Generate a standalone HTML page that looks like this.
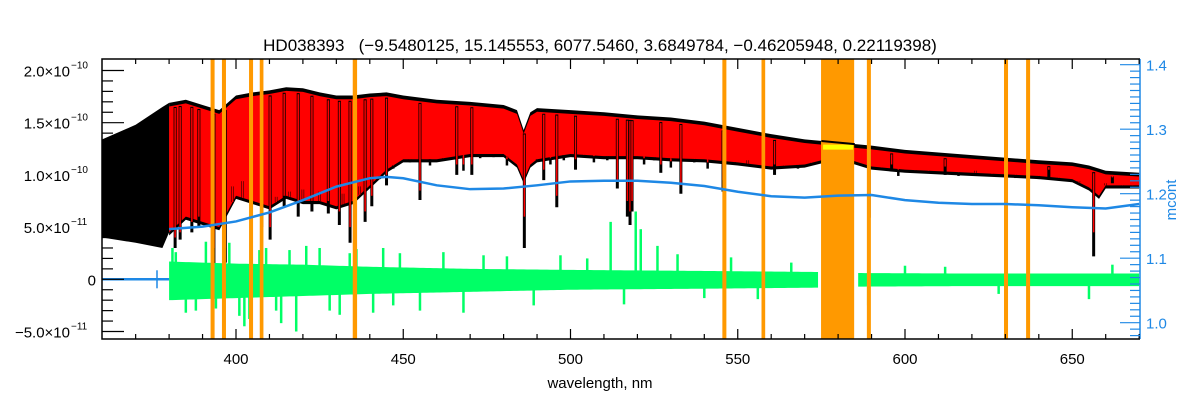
<!DOCTYPE html>
<html><head><meta charset="utf-8"><style>
html,body{margin:0;padding:0;background:#fff;}
svg{display:block;font-family:"Liberation Sans",sans-serif;}
</style></head><body>
<svg id="chart" width="1200" height="400" viewBox="0 0 1200 400">
<text x="600" y="51" text-anchor="middle" font-size="17" fill="#000">HD038393 &#160;&#160;(−9.5480125, 15.145553, 6077.5460, 3.6849784, −0.46205948, 0.22119398)</text>
<text x="600" y="388" text-anchor="middle" font-size="15" fill="#000">wavelength, nm</text>
<text transform="translate(-3,230) rotate(-90)" text-anchor="middle" font-size="15" fill="#000">flux, units</text>
<text transform="translate(1176,200) rotate(-90)" text-anchor="middle" font-size="15" fill="#1e88e5">mcont</text>
<defs><clipPath id="plotclip"><rect x="102" y="59" width="1038" height="280"/></clipPath></defs>
<g id="marks" clip-path="url(#plotclip)"></g>
<g id="axes"></g>
</svg>
<script>
// ---- data ----
const gridWl   = [360,370,378,380,385,390,395,400,405,410,415,420,425,430,435,440,445,450,460,470,480,484,486,488,490,500,510,520,530,540,550,560,570,580,590,600,620,640,650,655,658,660,670];
const upperFlux= [13.4,14.8,16.5,16.9,17.2,16.7,16.2,17.6,17.9,18.1,18.4,18.3,17.9,17.6,17.6,17.8,17.9,17.6,17.2,17.0,16.7,16.2,14.3,16.0,16.4,16.2,16.0,15.7,15.5,15.1,14.5,13.9,13.4,13.1,12.8,12.4,11.9,11.4,11.2,10.9,10.6,10.4,10.2];
const lowerFlux= [4.0,3.5,3.0,4.5,6.0,5.5,5.0,8.0,7.5,7.0,8.0,7.5,7.5,7.0,7.5,9.0,10.5,11.5,11.5,12.0,12.0,11.0,9.5,11.0,11.5,12.0,11.8,11.8,11.6,11.5,11.2,10.8,11.0,11.8,10.8,10.5,10.2,9.9,9.6,8.8,8.0,9.0,9.0];
const lineWl   = [381.8,383.3,386.8,388.9,393.4,396.8,404.6,407.7,410.2,414.4,418.6,422.7,427.6,430.9,434.1,438.6,440.6,445.0,455.0,466.0,470.5,486.2,492.0,495.9,501.5,514.0,517.0,517.8,518.4,527.0,533.0,545.6,557.6,561.0,589.3,596.0,612.0,643.0,656.4,662.0];
const lineMinBlack=[3.0,3.8,4.5,5.0,1.2,1.6,4.4,5.0,3.8,7.0,6.0,6.5,6.3,5.2,3.5,5.5,7.0,9.0,7.6,10.0,10.0,3.0,9.5,6.9,10.5,8.7,6.0,5.2,6.5,10.2,8.2,8.4,9.5,10.0,5.9,10.5,10.0,9.8,2.2,9.2];
const lineMinRed  =[4.0,4.5,5.5,6.0,3.0,3.0,6.0,6.0,5.0,8.0,7.5,7.5,7.5,6.5,5.0,6.5,8.0,10.0,8.5,11.0,11.0,6.0,10.5,8.0,11.5,9.5,7.5,6.5,7.5,11.0,9.0,9.5,10.5,11.0,7.5,11.0,10.8,10.5,4.5,10.0];
const weakWl   = [399,402,412,416,420,425,432,437,443,447,452,458,462,468,473,477,481,490,494,498,504,507,511,522,525,530,537,541,549,553,564,568,572,593,598,603,607,616,621,626,633,640,646,652,660,665,668];
const weakMin  = [9.5,10.0,8.5,9.0,9.2,9.0,8.8,9.5,10.2,11.2,11.8,11.5,12.0,11.0,12.2,12.3,11.5,12.0,11.6,12.0,12.3,11.8,12.0,11.6,12.0,11.3,11.8,11.2,11.6,12.0,11.4,11.2,11.7,11.3,10.5,11.0,10.9,10.5,11.0,10.7,10.3,10.2,10.2,10.0,9.8,9.5,9.6];
const mcontWl  = [380,390,400,410,420,430,440,445,450,460,470,480,490,500,510,520,530,540,550,560,570,580,590,600,610,620,630,640,650,660,670];
const mcontVal = [1.145,1.149,1.157,1.171,1.190,1.211,1.224,1.226,1.224,1.213,1.207,1.208,1.213,1.219,1.220,1.220,1.217,1.212,1.203,1.196,1.194,1.197,1.198,1.190,1.186,1.184,1.184,1.182,1.179,1.177,1.184];
const residWl  = [380,390,400,420,440,470,500,540,574,586,620,670];
const residHi  = [1.7,1.6,1.5,1.4,1.2,1.0,0.9,0.8,0.7,0.6,0.55,0.55];
const residLo  = [-2.0,-1.9,-1.8,-1.6,-1.4,-1.2,-1.0,-0.9,-0.8,-0.7,-0.65,-0.65];
const spikeWl  = [381,382,385,388,391,394,398,401,402.5,404,407,409,412,413.5,416,418,421,425,428,431,434,436,441,444,447,449,455,462,468,474,481,489,497,505,512,516,519.5,521,526,532,540,548,556,566,589,600,612,628,655,662];
const spikeVal = [3.0,2.6,-3.2,-3.0,3.6,-2.8,3.5,-3.5,-4.5,-3.8,2.8,3.0,-3.0,-4.2,2.8,-5.0,3.2,3.0,-3.0,-3.4,2.5,2.9,-3.2,3.0,-2.5,2.5,-3.0,2.6,-3.2,2.3,2.2,-2.5,2.3,2.0,5.5,-2.4,6.5,4.8,3.2,2.4,-1.8,2.1,-1.9,1.6,-2.5,1.3,1.2,-1.4,-1.9,1.4];
const maskStart= [392.4,395.8,403.9,407.1,434.9,545.4,557.1,574.9,588.6,629.6,636.2];
const maskEnd  = [393.6,397.0,405.1,408.2,436.2,546.6,558.2,584.8,589.8,630.8,637.4];
const xTicks   = [400,450,500,550,600,650];
const yTicks   = [-5,0,5,10,15,20];
const yTickLabels=["−5.0×10","0","5.0×10","1.0×10","1.5×10","2.0×10"];
const yTickExp = ["−11","","−11","−10","−10","−10"];
const y2Ticks  = [1.0,1.1,1.2,1.3,1.4];

// ---- axes ----
const L=102,R=1140,T=59,B=339;
const X=w=>236+(w-400)*3.345;
const Y=f=>279.3-f*10.44;
const Y2=m=>322.7-(m-1.0)*645;
const NS="http://www.w3.org/2000/svg";
const g=document.getElementById('marks');
const ga=document.getElementById('axes');
function mk(tag,attrs,parent){const e=document.createElementNS(NS,tag);for(const k in attrs)e.setAttribute(k,attrs[k]);(parent||g).appendChild(e);return e;}
function interp(xs,ys,x){if(x<=xs[0])return ys[0];for(let i=1;i<xs.length;i++){if(x<=xs[i]){const t=(x-xs[i-1])/(xs[i]-xs[i-1]);return ys[i-1]+t*(ys[i]-ys[i-1]);}}return ys[ys.length-1];}
let el;

let pts=[];
for(let i=0;i<gridWl.length&&gridWl[i]<=380;i++)pts.push(X(gridWl[i])+','+Y(upperFlux[i]));
for(let i=gridWl.length-1;i>=0;i--)if(gridWl[i]<=380)pts.push(X(gridWl[i])+','+Y(lowerFlux[i]));
el=mk('polygon',{points:pts.join(' '),fill:'#000'});



const up=[],lo=[];
for(let i=0;i<gridWl.length;i++)if(gridWl[i]>=380){up.push(X(gridWl[i])+','+Y(upperFlux[i]));lo.push(X(gridWl[i])+','+Y(lowerFlux[i]-0.3));}
el=mk('polygon',{points:up.concat(lo.reverse()).join(' '),fill:'#000'});


const up2=[],lo2=[];
for(let i=0;i<gridWl.length;i++)if(gridWl[i]>=380){up2.push(X(gridWl[i])+','+Y(upperFlux[i]-0.35));lo2.push(X(gridWl[i])+','+Y(lowerFlux[i]));}
el=mk('polygon',{points:up2.concat(lo2.reverse()).join(' '),fill:'#ff0000'});



for(let i=0;i<weakWl.length;i++){
  const x=X(weakWl[i]);const l=interp(gridWl,lowerFlux,weakWl[i]);
  el=mk('line',{x1:x,x2:x,y1:Y(l),y2:Y(weakMin[i]-0.6),stroke:'#000','stroke-width':2.5});
  
  
  el=mk('line',{x1:x,x2:x,y1:Y(l),y2:Y(weakMin[i]),stroke:'#ff0000','stroke-width':1.5});
  
  
}
for(let i=0;i<lineWl.length;i++){
  const x=X(lineWl[i]);const u=interp(gridWl,upperFlux,lineWl[i]);
  el=mk('line',{x1:x,x2:x,y1:Y(u-0.5),y2:Y(lineMinBlack[i]),stroke:'#000','stroke-width':3});
  
  
  el=mk('line',{x1:x,x2:x,y1:Y(u-0.6),y2:Y(lineMinRed[i]),stroke:'#ff0000','stroke-width':1.5});
  
  
}

function addRes(a,b){const u=[],l=[];for(let w=a;w<=b;w+=1){u.push(X(w)+','+Y(interp(residWl,residHi,w)));l.push(X(w)+','+Y(interp(residWl,residLo,w)));}
  el=mk('polygon',{points:u.concat(l.reverse()).join(' '),fill:'#00ff66'});
  
  }
addRes(380,574);addRes(586,670);
for(let i=0;i<spikeWl.length;i++){
  const x=X(spikeWl[i]);
  el=mk('line',{x1:x,x2:x,y1:Y(0),y2:Y(spikeVal[i]),stroke:'#00ff66','stroke-width':2.5});
  
  
}

for(let i=0;i<maskStart.length;i++){
  const x1=X(maskStart[i]),x2=X(maskEnd[i]);
  el=mk('rect',{x:x1,y:T,width:Math.max(3,x2-x1),height:B-T,fill:'#ff9900'});
  
  
}
el=mk('rect',{x:X(575.5),y:Y(interp(gridWl,upperFlux,580)-0.2),width:X(584.5)-X(575.5),height:5,fill:'#ffff00'});


el=mk('line',{x1:X(575),x2:X(585),y1:Y(interp(gridWl,upperFlux,575)),y2:Y(interp(gridWl,upperFlux,585)),stroke:'#000','stroke-width':2});



el=mk('polyline',{points:mcontWl.map((w,i)=>X(w)+','+Y2(mcontVal[i])).join(' '),fill:'none',stroke:'#1e88e5','stroke-width':2.5});


el=mk('line',{x1:L,x2:X(380),y1:Y(0),y2:Y(0),stroke:'#1e88e5','stroke-width':2.5});


el=mk('line',{x1:157,x2:157,y1:Y(0)-9,y2:Y(0)+9,stroke:'#1e88e5','stroke-width':1.5});



el=mk('polyline',{points:`${R},${T} ${L},${T} ${L},${B} ${R},${B}`,fill:'none',stroke:'#000','stroke-width':1.5},ga);


el=mk('line',{x1:R,x2:R,y1:T,y2:B,stroke:'#1e88e5','stroke-width':1.5},ga);



for(let w=370;w<=670;w+=10){
  const x=X(w);const len=(w%50===0)?10:5;
  mk('line',{x1:x,x2:x,y1:B,y2:B-len,stroke:'#000','stroke-width':1.2},ga);
  mk('line',{x1:x,x2:x,y1:T,y2:T+len,stroke:'#000','stroke-width':1.2},ga);
}
xTicks.forEach(w=>{
  el=mk('text',{x:X(w),y:364,'text-anchor':'middle','font-size':15,fill:'#000'},ga);
  el.textContent=w;
  
  
});
for(let f=-5;f<=20;f+=1){
  const y=Y(f);const len=(f%5===0)?22:11;
  mk('line',{x1:L,x2:L+len,y1:y,y2:y,stroke:'#000','stroke-width':1.2},ga);
}
yTicks.forEach((f,i)=>{
  el=mk('text',{x:yTickExp[i]?70:96,y:Y(f)+6,'text-anchor':'end','font-size':15,fill:'#000'},ga);
  el.textContent=yTickLabels[i];
  
  
  if(yTickExp[i]){
    const s=mk('text',{x:71,y:Y(f)-2,'font-size':10,fill:'#000'},ga);
    s.textContent=yTickExp[i];
    
    
  }
});
for(let k=0;k<=42;k++){
  const m=0.98+k*0.01;const y=Y2(m);if(y<T||y>B)continue;
  const len=(Math.abs(m*10-Math.round(m*10))<1e-6)?20:10;
  mk('line',{x1:R,x2:R-len,y1:y,y2:y,stroke:'#1e88e5','stroke-width':1.2},ga);
}
y2Ticks.forEach(m=>{
  el=mk('text',{x:1146,y:Y2(m)+6,'font-size':15,fill:'#1e88e5'},ga);
  el.textContent=m.toFixed(1);
  
  
});
</script>
</body></html>
